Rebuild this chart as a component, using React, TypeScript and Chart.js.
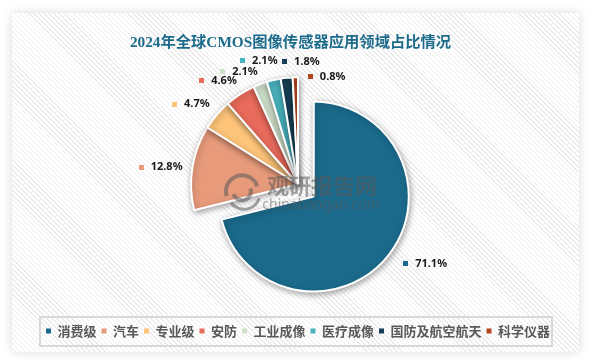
import { useEffect, useRef } from "react";
import { Chart, registerables } from "chart.js";

Chart.register(...registerables);

const TITLE = "2024年全球CMOS图像传感器应用领域占比情况";
const categories = ["消费级", "汽车", "专业级", "安防", "工业成像", "医疗成像", "国防及航空航天", "科学仪器"];
const shares = [71.1, 12.8, 4.7, 4.6, 2.1, 2.1, 1.8, 0.8];
const valueLabels = ["71.1%", "12.8%", "4.7%", "4.6%", "2.1%", "2.1%", "1.8%", "0.8%"];
const colors = ["#1b6a8c", "#e89b7b", "#fdc47a", "#e96b5c", "#cfe1cb", "#49b4c0", "#173f56", "#b4441e"];
// style: explode distance and per-slice outer radius (px)
const sliceOffsets = [20, 0, 0, 0, 0, 0, 0, 0];
const sliceRadii = [95, 107, 107, 107, 107, 107, 107, 107];
const labelNudges: number[][] = [[16, -2], [-6, 2], [-6, 0], [-8, 0], [-12, 3], [-9, -3], [17, 0], [32, 16]];

const explodePlugin = {
  id: "explode",
  afterDatasetsUpdate(chart: any) {
    const meta = chart.getDatasetMeta(0);
    meta.data.forEach((arc: any, i: number) => {
      const mid = (arc.startAngle + arc.endAngle) / 2;
      const off = sliceOffsets[i];
      arc.x = arc.x + Math.cos(mid) * off;
      arc.y = arc.y + Math.sin(mid) * off;
      arc.outerRadius = sliceRadii[i];
    });
  },
};

const shadowPlugin = {
  id: "sliceShadow",
  beforeDatasetsDraw(chart: any) {
    const ctx = chart.ctx;
    ctx.save();
    ctx.shadowColor = "rgba(0,0,0,0.35)";
    ctx.shadowBlur = 6;
    ctx.shadowOffsetX = 1;
    ctx.shadowOffsetY = 2;
  },
  afterDatasetsDraw(chart: any) {
    chart.ctx.restore();
  },
};

const labelPlugin = {
  id: "valueLabels",
  afterDatasetsDraw(chart: any) {
    const ctx = chart.ctx;
    const meta = chart.getDatasetMeta(0);
    ctx.save();
    ctx.font = 'bold 11px "Noto Sans", "Liberation Sans", sans-serif';
    ctx.textBaseline = "middle";
    ctx.textAlign = "left";
    meta.data.forEach((arc: any, i: number) => {
      const mid = (arc.startAngle + arc.endAngle) / 2;
      const cx = arc.x + Math.cos(mid) * (arc.outerRadius + 26) + labelNudges[i][0];
      const cy = arc.y + Math.sin(mid) * (arc.outerRadius + 17) + labelNudges[i][1];
      const text = valueLabels[i];
      const tw = ctx.measureText(text).width;
      const total = 12 + tw;
      const left = cx - total / 2;
      ctx.fillStyle = colors[i];
      ctx.fillRect(Math.round(left), Math.round(cy - 2), 5, 5);
      ctx.fillStyle = "#1a1a1a";
      ctx.fillText(text, left + 12, cy + 0.5);
    });
    ctx.restore();
  },
};

const watermarkPlugin = {
  id: "watermark",
  afterDatasetsDraw(chart: any) {
    const ctx = chart.ctx;
    const a = chart.chartArea;
    const cx = (a.left + a.right) / 2;
    const cy = (a.top + a.bottom) / 2;
    ctx.save();
    ctx.globalAlpha = 0.55;
    ctx.fillStyle = "#5a5a5a";
    ctx.strokeStyle = "#5a5a5a";
    ctx.textAlign = "center";
    ctx.textBaseline = "middle";
    ctx.font = 'bold 22px "Noto Sans CJK SC", sans-serif';
    ctx.fillText("观研报告网", cx + 24, cy + 1);
    ctx.font = '14px "Noto Sans", sans-serif';
    ctx.fillText("chinabaogao.com", cx + 23, cy + 21);
    const lx = cx - 56;
    const ly = cy + 7;
    ctx.lineWidth = 4;
    ctx.beginPath();
    ctx.arc(lx, ly, 16, Math.PI * 0.9, Math.PI * 1.9);
    ctx.stroke();
    ctx.beginPath();
    ctx.arc(lx, ly, 9, Math.PI * 1.9, Math.PI * 0.9);
    ctx.stroke();
    ctx.lineWidth = 3;
    ctx.beginPath();
    ctx.arc(lx + 2, ly + 2, 16, Math.PI * 0.1, Math.PI * 0.8);
    ctx.stroke();
    ctx.restore();
  },
};

const titlePlugin = {
  id: "customTitle",
  afterDraw(chart: any) {
    const ctx = chart.ctx;
    ctx.save();
    ctx.font = 'bold 15.3px "Liberation Serif", "Noto Sans CJK SC", serif';
    ctx.fillStyle = "#1d6b8b";
    ctx.textAlign = "center";
    ctx.textBaseline = "middle";
    ctx.fillText(TITLE, chart.width / 2 - 5, 43);
    ctx.restore();
  },
};

const legendBoxPlugin = {
  id: "legendBox",
  afterDraw(chart: any) {
    const lg = chart.legend;
    if (!lg || !lg.legendHitBoxes || !lg.legendHitBoxes.length) return;
    const hb = lg.legendHitBoxes;
    const left = Math.min(...hb.map((h: any) => h.left));
    const right = Math.max(...hb.map((h: any) => h.left + h.width));
    const cy = hb[0].top + hb[0].height / 2;
    const ctx = chart.ctx;
    ctx.save();
    ctx.strokeStyle = "#d8d8d8";
    ctx.lineWidth = 2;
    ctx.strokeRect(left - 6, cy - 14, right - left + 8, 29);
    ctx.restore();
  },
};

export default function App() {
  const ref = useRef<HTMLCanvasElement | null>(null);

  useEffect(() => {
    if (!ref.current) return;
    const baseGen = (Chart as any).overrides.doughnut.plugins.legend.labels.generateLabels;
    const chart = new Chart(ref.current, {
      type: "pie",
      data: {
        labels: categories,
        datasets: [
          {
            data: shares,
            backgroundColor: colors,
            borderColor: "#ffffff",
            borderWidth: 2,
            radius: 107,
          } as any,
        ],
      },
      options: {
        responsive: false,
        animation: false,
        devicePixelRatio: 1,
        layout: { padding: { top: 49, bottom: 15.5, left: 30, right: 25 } },
        plugins: {
          title: { display: false },
          tooltip: { enabled: false },
          legend: {
            position: "bottom",
            labels: {
              boxWidth: 5,
              boxHeight: 5,
              padding: 5,
              color: "#595959",
              font: { size: 13, weight: "bold", family: '"Noto Sans CJK SC", sans-serif' },
              generateLabels: (c: any) =>
                baseGen(c).map((it: any) => ({ ...it, lineWidth: 0, strokeStyle: "rgba(0,0,0,0)" })),
            },
          },
        },
      } as any,
      plugins: [explodePlugin, shadowPlugin, labelPlugin, watermarkPlugin, titlePlugin, legendBoxPlugin],
    });
    return () => chart.destroy();
  }, []);

  return (
    <div style={{ position: "fixed", left: 0, top: 0, width: 591, height: 363, background: "#ffffff", overflow: "hidden" }}>
      <div
        style={{
          position: "absolute",
          left: 12,
          top: 13,
          width: 567,
          height: 339,
          boxShadow: "0 0 10px rgba(0,0,0,0.14)",
          background:
            "repeating-linear-gradient(45deg, #ffffff 0px, #ffffff 2.5px, #ebebeb 2.5px, #ebebeb 3.5px)",
        }}
      />
      <canvas ref={ref} width={591} height={363} style={{ position: "absolute", left: 0, top: 0, width: 591, height: 363 }} />
    </div>
  );
}
